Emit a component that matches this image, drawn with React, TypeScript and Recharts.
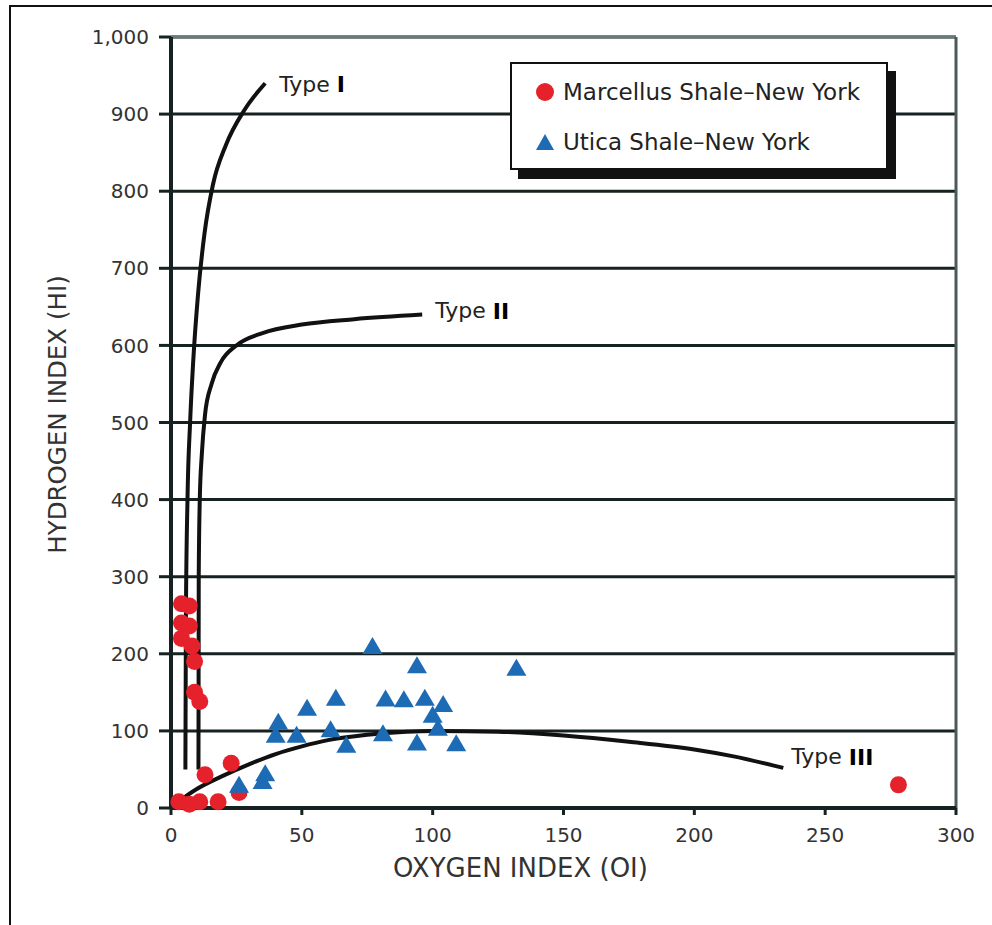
import React from 'react';
import {
  ComposedChart,
  Scatter,
  Line,
  XAxis,
  YAxis,
  CartesianGrid,
  ReferenceLine,
  ReferenceDot,
} from 'recharts';

// Rock-Eval data
const marcellus: [number, number][] = [
  [4, 265], [7, 262], [4, 240], [7, 236], [4, 220], [8, 210], [9, 190],
  [9, 150], [11, 138], [13, 43], [23, 58], [3, 8], [7, 5], [11, 8],
  [18, 8], [26, 20], [278, 30],
];

const utica: [number, number][] = [
  [26, 30], [35, 35], [36, 45], [40, 95], [41, 112], [48, 95], [52, 130],
  [61, 102], [63, 143], [67, 82], [77, 210], [81, 97], [82, 142], [89, 141],
  [94, 185], [94, 85], [97, 143], [100, 121], [102, 104], [104, 135],
  [109, 84], [132, 182],
];

// kerogen type pathways
const typeI: [number, number][] = [
  [5.5, 50], [5.7, 250], [6.3, 400], [7.3, 500], [8.5, 580], [10.3, 665],
  [12.8, 745], [16, 808], [21, 860], [28, 905], [36, 940],
];
const typeII: [number, number][] = [
  [10.5, 50], [10.6, 300], [11, 400], [11.8, 460], [13, 510], [15.5, 550],
  [19, 578], [25, 600], [35, 616], [50, 627], [70, 634], [96, 640],
];
const typeIII: [number, number][] = [
  [1.5, 5], [10, 25], [20, 42], [30, 57], [40, 70], [50, 80], [60, 88],
  [75, 95], [90, 99], [100, 100], [125, 99], [150, 94], [175, 86],
  [200, 76], [215, 67], [234, 52],
];

const X_TICKS = [0, 50, 100, 150, 200, 250, 300];
const Y_TICKS = [0, 100, 200, 300, 400, 500, 600, 700, 800, 900, 1000];

const RED = '#e5212b';
const BLUE = '#1d6bb4';
const INK = '#162222';
const FONT = 'DejaVu Sans';

const toPts = (arr: [number, number][]) => arr.map(([x, y]) => ({ x, y }));

const RedDot = (p: any) => <circle cx={p.cx} cy={p.cy} r={8.5} fill={RED} />;
const BlueTri = (p: any) => (
  <polygon
    points={`${p.cx},${p.cy - 9} ${p.cx + 10},${p.cy + 8} ${p.cx - 10},${p.cy + 8}`}
    fill={BLUE}
  />
);

const typeLabel = (roman: string, dx: number, dy: number) => (props: any) => {
  const vb = props.viewBox || {};
  const x = (vb.x ?? 0) + (vb.width ?? 0) / 2 + dx;
  const y = (vb.y ?? 0) + (vb.height ?? 0) / 2 + dy;
  return (
    <text x={x} y={y} fontFamily={FONT} fontSize={22} fill="#222" dominantBaseline="central">
      Type <tspan fontWeight="bold" fill="#000">{roman}</tspan>
    </text>
  );
};

export default function App() {
  return (
    <div style={{ position: 'relative', width: 992, height: 925, background: '#fff', overflow: 'hidden' }}>
      <style>{'body{margin:0}'}</style>
      <div
        style={{
          position: 'absolute', left: 9, top: 5, width: 990, height: 940,
          borderTop: '2px solid #111', borderLeft: '2px solid #111',
        }}
      />
      <ComposedChart
        width={992}
        height={925}
        margin={{ top: 37, right: 36, left: 0, bottom: 0 }}
        style={{ position: 'absolute', left: 0, top: 0 }}
      >
        <CartesianGrid vertical={false} stroke={INK} strokeWidth={3} horizontalValues={Y_TICKS} />
        <XAxis
          type="number"
          dataKey="x"
          domain={[0, 300]}
          ticks={X_TICKS}
          interval={0}
          height={117}
          axisLine={{ stroke: INK, strokeWidth: 4 }}
          tickLine={{ stroke: INK, strokeWidth: 3 }}
          tickSize={7}
          tickMargin={13}
          tick={{ fill: '#333', fontSize: 20, fontFamily: FONT }}
          label={(props: any) => {
            const vb = props.viewBox;
            return (
              <text
                x={vb.x + vb.width / 2 - 43}
                y={vb.y + 69}
                textAnchor="middle"
                fontFamily={FONT}
                fontSize={26}
                fill="#333"
              >
                OXYGEN INDEX (OI)
              </text>
            );
          }}
        />
        <YAxis
          type="number"
          dataKey="y"
          domain={[0, 1000]}
          ticks={Y_TICKS}
          interval={0}
          width={171}
          axisLine={{ stroke: INK, strokeWidth: 4 }}
          tickLine={{ stroke: INK, strokeWidth: 3 }}
          tickSize={12}
          tickMargin={10}
          tick={{ fill: '#333', fontSize: 20, fontFamily: FONT }}
          tickFormatter={(v: number) => v.toLocaleString('en-US')}
          label={(props: any) => {
            const vb = props.viewBox;
            const cx = 57;
            const cy = vb.y + vb.height / 2 - 8;
            return (
              <text
                x={cx}
                y={cy}
                transform={`rotate(-90 ${cx} ${cy})`}
                textAnchor="middle"
                dominantBaseline="central"
                fontFamily={FONT}
                fontSize={24.5}
                fill="#333"
              >
                HYDROGEN INDEX (HI)
              </text>
            );
          }}
        />
        <ReferenceLine y={1000} stroke="#6a7a7a" strokeWidth={3} />
        <ReferenceLine x={300} stroke="#4a5a5a" strokeWidth={3} />

        <Scatter name="Marcellus Shale–New York" data={toPts(marcellus)} shape={RedDot} isAnimationActive={false} />
        <Scatter name="Utica Shale–New York" data={toPts(utica)} shape={BlueTri} isAnimationActive={false} />

        <Line data={toPts(typeI)} dataKey="y" type="monotone" stroke="#111" strokeWidth={4} dot={false} activeDot={false} isAnimationActive={false} />
        <Line data={toPts(typeII)} dataKey="y" type="monotone" stroke="#111" strokeWidth={4} dot={false} activeDot={false} isAnimationActive={false} />
        <Line data={toPts(typeIII)} dataKey="y" type="monotone" stroke="#111" strokeWidth={4} dot={false} activeDot={false} isAnimationActive={false} />

        <ReferenceDot x={36} y={940} r={1} fill="none" stroke="none" label={typeLabel('I', 14, 1)} />
        <ReferenceDot x={96} y={640} r={1} fill="none" stroke="none" label={typeLabel('II', 13, -4)} />
        <ReferenceDot x={234} y={52} r={1} fill="none" stroke="none" label={typeLabel('III', 8, -11)} />
      </ComposedChart>

      <div
        style={{
          position: 'absolute', left: 510, top: 62, width: 374, height: 104,
          border: '2px solid #111', background: '#fff', boxShadow: '8px 9px 0 #111',
          fontFamily: FONT, fontSize: 23, color: '#222',
        }}
      >
        <div style={{ position: 'absolute', left: 23, top: 15, display: 'flex', alignItems: 'center' }}>
          <svg width={20} height={20} style={{ marginRight: 8 }}>
            <circle cx={10} cy={10} r={9} fill={RED} />
          </svg>
          <span>Marcellus Shale–New York</span>
        </div>
        <div style={{ position: 'absolute', left: 23, top: 65, display: 'flex', alignItems: 'center' }}>
          <svg width={20} height={20} style={{ marginRight: 8 }}>
            <polygon points="10,2 19,18 1,18" fill={BLUE} />
          </svg>
          <span>Utica Shale–New York</span>
        </div>
      </div>
    </div>
  );
}
